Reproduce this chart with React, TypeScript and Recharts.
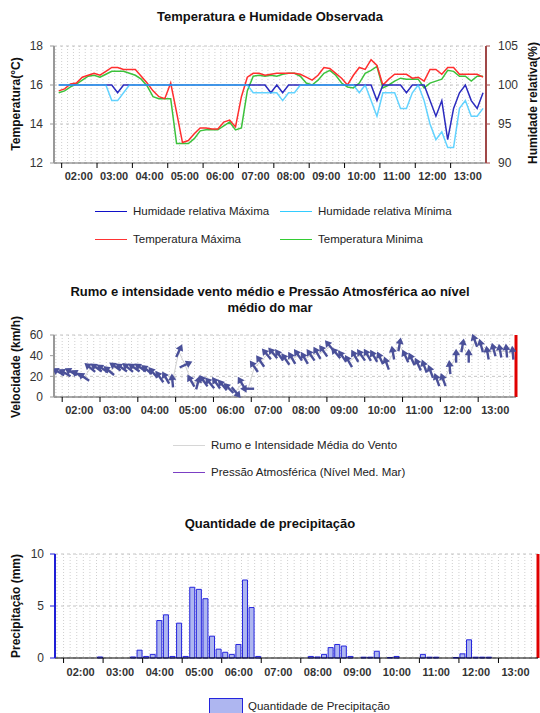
import { Bar, CartesianGrid, ComposedChart, Line, ReferenceLine, XAxis, YAxis } from 'recharts'

// 10-minute slots, first one at 01:55
const slotStart = 115
const slotStep = 10
const slotCount = 73

const hourLabels = ['02:00', '03:00', '04:00', '05:00', '06:00', '07:00', '08:00', '09:00', '10:00', '11:00', '12:00', '13:00']

const tempMax = [
  15.7,
  15.8, 16.05, 16.1, 16.4, 16.5, 16.6,
  16.5, 16.7, 16.9, 16.9, 16.8, 16.8,
  16.8, 16.45, 16.1, 15.7, 15.4, 15.3,
  16.1, 14.6, 13.05, 13.15, 13.5, 13.8,
  13.8, 13.75, 13.75, 14.1, 14.2, 13.85,
  15.4, 16.4, 16.6, 16.6, 16.5, 16.55,
  16.6, 16.6, 16.6, 16.6, 16.55, 16.4,
  16.25, 16.5, 16.9, 16.85, 16.6, 16.35,
  16.0, 16.5, 16.9, 16.8, 17.3, 17.0,
  16.0, 16.3, 16.55, 16.55, 16.55, 16.35,
  16.4, 16.2, 16.8, 16.8, 16.55, 16.9,
  16.9, 16.55, 16.55, 16.55, 16.55, 16.4,
]

const tempMin = [
  15.6,
  15.7, 15.9, 16.05, 16.25, 16.45, 16.5,
  16.4, 16.55, 16.7, 16.7, 16.7, 16.6,
  16.5, 16.3, 15.95, 15.4, 15.3, 15.3,
  15.3, 13.0, 13.0, 13.0, 13.25, 13.65,
  13.7, 13.7, 13.7, 13.9, 14.1, 13.7,
  13.8, 15.7, 16.45, 16.5, 16.45, 16.5,
  16.45, 16.55, 16.6, 16.6, 16.45, 16.1,
  16.0, 16.25, 16.6, 16.75, 16.5, 16.1,
  15.9, 15.85, 16.1, 16.6, 16.75, 16.95,
  15.85, 16.0, 16.2, 16.35, 16.3, 16.3,
  16.3, 15.85, 16.1, 16.2, 16.3, 16.75,
  16.7, 16.45, 16.45, 16.2, 16.45, 16.45,
]

const humMax = [
  100,
  100, 100, 100, 100, 100, 100,
  100, 100, 100, 99, 100, 100,
  100, 100, 100, 100, 100, 100,
  100, 100, 100, 100, 100, 100,
  100, 100, 100, 100, 100, 100,
  100, 100, 100, 100, 100, 99,
  100, 99, 100, 100, 100, 100,
  100, 100, 100, 100, 100, 100,
  100, 100, 100, 100, 100, 98,
  100, 100, 100, 100, 99, 100,
  100, 100, 98, 96, 98, 93,
  97, 99, 100, 98, 97, 99,
]

const humMin = [
  100,
  100, 100, 100, 100, 100, 100,
  100, 100, 98, 98, 99, 100,
  100, 100, 100, 100, 100, 100,
  100, 100, 100, 100, 100, 100,
  100, 100, 100, 100, 100, 100,
  100, 100, 99, 99, 99, 99,
  99, 98, 99, 99, 100, 100,
  100, 100, 100, 100, 100, 100,
  100, 100, 99, 100, 98, 96,
  99, 99, 99, 97, 97, 99,
  100, 98, 95, 93, 94, 92,
  92, 97, 98, 96, 96, 97,
]

const windSpeed = [
  24,
  23, 24, 22, 19, 28, 28,
  27, 25, 29, 28, 28, 28,
  28, 26, 23, 19, 18, 15,
  44, 31, 15, 13, 15, 13,
  13, 11, 8, 5, 13, 8,
  29, 34, 41, 42, 40, 36,
  37, 40, 37, 40, 42, 44,
  49, 42, 39, 34, 39, 40,
  40, 39, 37, 32, 42, 50,
  39, 36, 31, 29, 24, 16,
  16, 28, 39, 49, 39, 54,
  49, 42, 45, 44, 44, 42,
]

// arrow heading in degrees, 0 = up, clockwise
const windDir = [
  -60,
  -60, -60, -60, -55, -50, -55,
  -55, -50, -55, -55, -50, -55,
  -55, -50, -40, -35, -30, -5,
  25, 65, -30, 15, -35, -40,
  -35, -40, -45, 140, -30, -90,
  -35, -35, -40, -40, -35, -35,
  -30, -35, -30, -35, -30, -35,
  -40, -40, -35, -30, -30, -35,
  -30, -30, -25, -20, -10, 10,
  -25, -25, -25, -20, -20, -20,
  -20, -5, 0, 10, 0, -20,
  -15, -10, -15, -10, -5, -5,
]

const precip = [
  0,
  0, 0, 0, 0, 0, 0.1,
  0, 0, 0, 0, 0.1, 0.75,
  0.15, 0.35, 3.6, 4.15, 0.15, 3.35,
  0.15, 6.8, 6.6, 5.7, 2.1, 0.85,
  0.55, 0.35, 1.3, 7.5, 4.85, 0.15,
  0, 0, 0, 0, 0, 0,
  0, 0.15, 0.1, 0.35, 1.0, 1.3,
  1.15, 0.15, 0, 0.08, 0.08, 0.65,
  0, 0.05, 0.15, 0, 0, 0,
  0.35, 0.08, 0.08, 0, 0, 0.05,
  0.4, 1.75, 0.08, 0.08, 0.08, 0,
  0, 0, 0, 0, 0, 0,
]

const toMin = (s: string) => {
  const [h, m] = s.split(':').map(Number)
  return h * 60 + m
}
const hourTicks = hourLabels.map(toMin)
const domainX: [number, number] = [107, 840]
const gridMinutes = Array.from({ length: 73 }, (_, i) => 110 + i * 10)

const rows = Array.from({ length: slotCount }, (_, i) => ({
  t: slotStart + i * slotStep,
  tMax: tempMax[i],
  tMin: tempMin[i],
  hMax: humMax[i],
  hMin: humMin[i],
  speed: windSpeed[i],
  dir: windDir[i],
  rain: precip[i],
}))

const FONT = '"Liberation Sans", Arial, sans-serif'
const arrowColor = '#4A5099'

const minuteGrid = ({ xAxis, offset }: any) => {
  const s = xAxis?.scale
  return gridMinutes.map((m) =>
    typeof s === 'function'
      ? s(m)
      : offset.left + ((m - domainX[0]) / (domainX[1] - domainX[0])) * offset.width,
  )
}

const hourTick = (dy: number) => (props: any) => {
  const { x, y, payload } = props
  const idx = hourTicks.indexOf(payload.value)
  return (
    <text x={x + 3} y={y + dy} textAnchor="start" fontSize={11} fontWeight="bold" fill="#333" fontFamily={FONT}>
      {hourLabels[idx] ?? ''}
    </text>
  )
}

const WindArrow = (props: any) => {
  const { cx, cy, payload, index } = props
  if (cx == null || cy == null) return <g key={`w${index}`} />
  return (
    <g key={`w${index}`} transform={`translate(${cx},${cy}) rotate(${payload.dir})`}>
      <line x1={0} y1={6} x2={0} y2={-3} stroke={arrowColor} strokeWidth={2.4} />
      <polygon points="0,-8 -4,-1.5 4,-1.5" fill={arrowColor} />
    </g>
  )
}

function Title({ text, y }: { text: string; y: number }) {
  return (
    <div
      style={{
        position: 'absolute',
        left: 0,
        width: 540,
        top: y - 8,
        lineHeight: '16px',
        textAlign: 'center',
        fontSize: 13,
        fontWeight: 'bold',
        color: '#111',
      }}
    >
      {text}
    </div>
  )
}

function AxisTitle({ text, cx, cy }: { text: string; cx: number; cy: number }) {
  return (
    <div
      style={{
        position: 'absolute',
        left: cx,
        top: cy,
        transform: 'translate(-50%, -50%) rotate(-90deg)',
        whiteSpace: 'nowrap',
        fontSize: 12,
        fontWeight: 'bold',
        color: '#111',
        lineHeight: '14px',
      }}
    >
      {text}
    </div>
  )
}

function LegendLine({ x, y, color, text }: { x: number; y: number; color: string; text: string }) {
  return (
    <>
      <div style={{ position: 'absolute', left: x, top: y, width: 32, height: 1, background: color }} />
      <div
        style={{
          position: 'absolute',
          left: x + 38,
          top: y - 7,
          lineHeight: '14px',
          fontSize: 11.5,
          color: '#222',
          whiteSpace: 'nowrap',
        }}
      >
        {text}
      </div>
    </>
  )
}

const yTick = { fontSize: 12, fill: '#333' }

export default function App() {
  return (
    <div
      style={{
        position: 'absolute',
        left: 0,
        top: 0,
        width: 540,
        height: 713,
        overflow: 'hidden',
        background: '#fff',
        fontFamily: FONT,
      }}
    >
      <Title text="Temperatura e Humidade Observada" y={17} />
      <AxisTitle text="Temperatura(°C)" cx={16} cy={104} />
      <AxisTitle text="Humidade relativa(%)" cx={533} cy={103} />
      <div style={{ position: 'absolute', left: 0, top: 0 }}>
        <ComposedChart width={540} height={188} data={rows} margin={{ top: 46, right: 0, bottom: 0, left: 0 }}>
          <CartesianGrid yAxisId="t" horizontal={false} verticalCoordinatesGenerator={minuteGrid} stroke="#cfcfcf" strokeDasharray="1 2" />
          <CartesianGrid yAxisId="t" vertical={false} stroke="#c4c4c4" strokeDasharray="3 3" />
          <XAxis
            dataKey="t"
            type="number"
            domain={domainX}
            ticks={hourTicks}
            allowDataOverflow
            height={25}
            tickSize={5}
            tickMargin={0}
            tickLine={{ stroke: '#000' }}
            axisLine={{ stroke: '#666' }}
            tick={hourTick(12)}
          />
          <YAxis
            yAxisId="t"
            domain={[12, 18]}
            ticks={[12, 14, 16, 18]}
            width={54}
            tickSize={4}
            tickMargin={7}
            tick={yTick}
            tickLine={{ stroke: '#999' }}
            axisLine={{ stroke: '#999', strokeWidth: 2 }}
          />
          <YAxis
            yAxisId="h"
            orientation="right"
            domain={[90, 105]}
            ticks={[90, 95, 100, 105]}
            width={54}
            tickSize={4}
            tickMargin={8}
            tick={yTick}
            tickLine={{ stroke: '#A04848' }}
            axisLine={{ stroke: '#A04848', strokeWidth: 2 }}
          />
          <Line yAxisId="t" dataKey="tMin" type="linear" stroke="#3CC23C" strokeWidth={1.5} dot={false} isAnimationActive={false} />
          <Line yAxisId="t" dataKey="tMax" type="linear" stroke="#FF2E2E" strokeWidth={1.5} dot={false} isAnimationActive={false} />
          <Line yAxisId="h" dataKey="hMax" type="linear" stroke="#2B2BBF" strokeWidth={1.5} dot={false} isAnimationActive={false} />
          <Line yAxisId="h" dataKey="hMin" type="linear" stroke="#2FC4FF" strokeOpacity={0.75} strokeWidth={1.5} dot={false} isAnimationActive={false} />
        </ComposedChart>
      </div>
      <LegendLine x={95} y={211} color="#1010C8" text="Humidade relativa Máxima" />
      <LegendLine x={280} y={211} color="#33CCFF" text="Humidade relativa Mínima" />
      <LegendLine x={95} y={239} color="#FF3333" text="Temperatura Máxima" />
      <LegendLine x={280} y={239} color="#33CC33" text="Temperatura Minima" />

      <Title text="Rumo e intensidade vento médio e Pressão Atmosférica ao nível" y={292} />
      <Title text="médio do mar" y={308} />
      <AxisTitle text="Velocidade (km/h)" cx={16} cy={367} />
      <div style={{ position: 'absolute', left: 0, top: 320 }}>
        <ComposedChart width={540} height={102} data={rows} margin={{ top: 15, right: 24, bottom: 0, left: 0 }}>
          <CartesianGrid horizontal={false} verticalCoordinatesGenerator={minuteGrid} stroke="#cfcfcf" strokeDasharray="1 2" />
          <CartesianGrid vertical={false} stroke="#c4c4c4" strokeDasharray="3 3" />
          <XAxis
            dataKey="t"
            type="number"
            domain={domainX}
            ticks={hourTicks}
            allowDataOverflow
            height={25}
            tickSize={5}
            tickMargin={0}
            tickLine={{ stroke: '#000' }}
            axisLine={{ stroke: '#555' }}
            tick={hourTick(11.5)}
          />
          <YAxis
            domain={[0, 60]}
            ticks={[0, 20, 40, 60]}
            width={54}
            tickSize={4}
            tickMargin={7}
            tick={yTick}
            tickLine={{ stroke: '#999' }}
            axisLine={{ stroke: '#999', strokeWidth: 2 }}
          />
          <ReferenceLine x={840} stroke="#E00000" strokeWidth={3} />
          <Line dataKey="speed" type="linear" stroke="#d2d2d2" strokeWidth={1} dot={WindArrow} isAnimationActive={false} />
        </ComposedChart>
      </div>
      <LegendLine x={173} y={445} color="#d6d6d6" text="Rumo e Intensidade Média do Vento" />
      <LegendLine x={173} y={472} color="#7B3FC4" text="Pressão Atmosférica (Nível Med. Mar)" />

      <Title text="Quantidade de precipitação" y={524} />
      <AxisTitle text="Precipitação (mm)" cx={16} cy={606} />
      <div style={{ position: 'absolute', left: 0, top: 540 }}>
        <ComposedChart width={540} height={143} data={rows} margin={{ top: 14, right: 2, bottom: 0, left: 0 }}>
          <CartesianGrid horizontal={false} verticalCoordinatesGenerator={minuteGrid} stroke="#cfcfcf" strokeDasharray="1 2" />
          <CartesianGrid vertical={false} stroke="#c4c4c4" strokeDasharray="3 3" />
          <XAxis
            dataKey="t"
            type="number"
            domain={domainX}
            ticks={hourTicks}
            allowDataOverflow
            height={25}
            tickSize={5}
            tickMargin={0}
            tickLine={{ stroke: '#000' }}
            axisLine={{ stroke: '#000' }}
            tick={hourTick(13)}
          />
          <YAxis
            domain={[0, 10]}
            ticks={[0, 5, 10]}
            width={55}
            tickSize={5}
            tickMargin={6}
            tick={yTick}
            tickLine={{ stroke: '#1F1FD6' }}
            axisLine={{ stroke: '#1F1FD6', strokeWidth: 2 }}
          />
          <ReferenceLine x={840} stroke="#E00000" strokeWidth={3} />
          <Bar dataKey="rain" barSize={5} fill="#AEB6F0" stroke="#2424DD" strokeWidth={1} isAnimationActive={false} />
        </ComposedChart>
      </div>
      <div
        style={{
          position: 'absolute',
          left: 209,
          top: 698,
          width: 32,
          height: 16,
          background: '#AEB6F0',
          border: '1px solid #2424DD',
        }}
      />
      <div style={{ position: 'absolute', left: 248, top: 699, lineHeight: '14px', fontSize: 11.5, color: '#222' }}>
        Quantidade de Precipitação
      </div>
    </div>
  )
}
